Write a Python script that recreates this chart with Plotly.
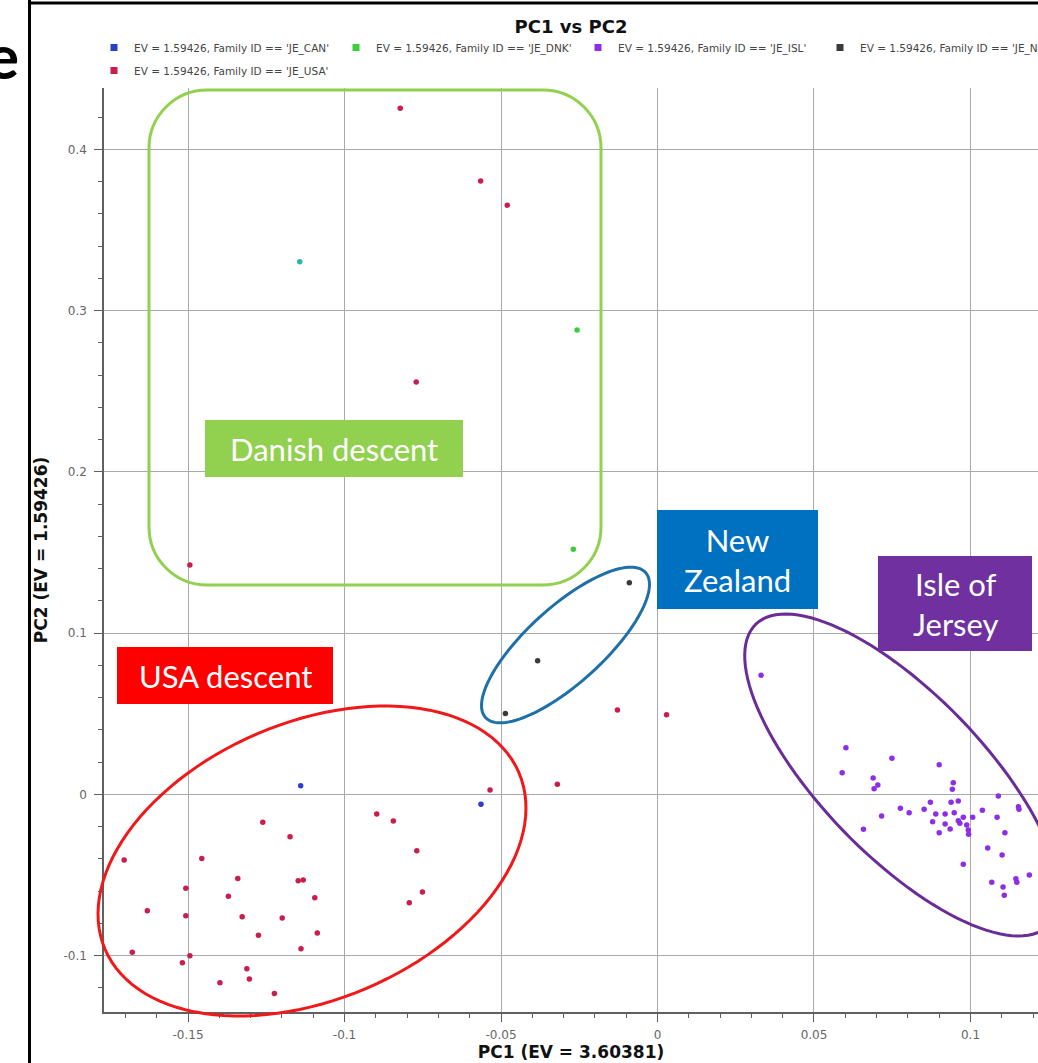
import numpy as np
import plotly.graph_objects as go

# ---------------- data ----------------
legend_labels = {
    "CAN": "EV = 1.59426, Family ID == 'JE_CAN'",
    "DNK": "EV = 1.59426, Family ID == 'JE_DNK'",
    "ISL": "EV = 1.59426, Family ID == 'JE_ISL'",
    "NZL": "EV = 1.59426, Family ID == 'JE_NZL'",
    "USA": "EV = 1.59426, Family ID == 'JE_USA'",
}

can_x = [-0.1140, -0.0564]
can_y = [0.0053, -0.0062]

dnk_x = [-0.0257, -0.0269]
dnk_y = [0.2880, 0.1520]

# one point drawn in a blended teal colour (CAN/DNK overlap)
overlap_x = [-0.1143]
overlap_y = [0.3304]

nzl_x = [-0.0090, -0.0383, -0.0486]
nzl_y = [0.1313, 0.0829, 0.0502]

usa_x = [-0.0822, -0.0565, -0.0480, -0.0771, -0.1494, -0.0128, 0.0029, -0.0320,
         -0.0535, -0.1261, -0.1174, -0.0897, -0.0844, -0.0769, -0.1704, -0.1456,
         -0.1341, -0.1148, -0.1132, -0.1507, -0.1371, -0.1095, -0.0751, -0.0793,
         -0.1630, -0.1507, -0.1327, -0.1199, -0.1087, -0.1275, -0.1139, -0.1678,
         -0.1494, -0.1518, -0.1312, -0.1304, -0.1398, -0.1224]
usa_y = [0.4256, 0.3805, 0.3654, 0.2558, 0.1422, 0.0523, 0.0494, 0.0062,
         0.0027, -0.0174, -0.0263, -0.0122, -0.0166, -0.0350, -0.0408, -0.0399,
         -0.0523, -0.0536, -0.0532, -0.0583, -0.0633, -0.0641, -0.0606, -0.0672,
         -0.0722, -0.0753, -0.0759, -0.0767, -0.0860, -0.0875, -0.0958, -0.0980,
         -0.1001, -0.1045, -0.1082, -0.1146, -0.1169, -0.1235]

isl_x = [0.0331, 0.0602, 0.0749, 0.0590, 0.0900, 0.0689, 0.0704, 0.0692,
         0.0945, 0.0942, 0.1089, 0.0872, 0.0938, 0.0961, 0.1153, 0.1155,
         0.0776, 0.0804, 0.0852, 0.0889, 0.0919, 0.0948, 0.0977, 0.1007,
         0.1038, 0.1085, 0.0716, 0.0879, 0.0919, 0.0961, 0.0966, 0.0935,
         0.0988, 0.0993, 0.0994, 0.0900, 0.0658, 0.1110, 0.1055, 0.1101,
         0.0977, 0.1188, 0.1068, 0.1145, 0.1148, 0.1104, 0.1108]
isl_y = [0.0738, 0.0289, 0.0223, 0.0134, 0.0184, 0.0101, 0.0058, 0.0035,
         0.0072, 0.0031, -0.0011, -0.0050, -0.0050, -0.0042, -0.0077, -0.0093,
         -0.0087, -0.0114, -0.0093, -0.0122, -0.0122, -0.0114, -0.0143, -0.0143,
         -0.0099, -0.0143, -0.0135, -0.0170, -0.0184, -0.0164, -0.0180, -0.0215,
         -0.0190, -0.0221, -0.0248, -0.0238, -0.0217, -0.0238, -0.0333, -0.0377,
         -0.0434, -0.0501, -0.0546, -0.0524, -0.0546, -0.0575, -0.0627]

x_tickvals = [-0.15, -0.1, -0.05, 0, 0.05, 0.1]
x_ticktext = ["-0.15", "-0.1", "-0.05", "0", "0.05", "0.1"]
y_tickvals = [-0.1, 0, 0.1, 0.2, 0.3, 0.4]
y_ticktext = ["-0.1", "0", "0.1", "0.2", "0.3", "0.4"]

X_RANGE = [-0.17684, 0.12157]
Y_RANGE = [-0.13505, 0.43815]

# ---------------- layout geometry ----------------
W, H = 1038, 1063
ML, MR, MT, MB = 104, 0, 88, 51
PL, PR, PT, PB = ML, W - MR, MT, H - MB


def fx(px):  # window px -> paper x
    return (px - PL) / (PR - PL)


def fy(py):  # window px -> paper y
    return (PB - py) / (PB - PT)


colors = {"CAN": "#2a3fc7", "DNK": "#3ccc3c", "ISL": "#8f2de6",
          "NZL": "#3a3a3a", "USA": "#c81d4d"}

fig = go.Figure()

series = [("CAN", can_x, can_y), ("DNK", dnk_x, dnk_y), ("ISL", isl_x, isl_y),
          ("NZL", nzl_x, nzl_y), ("USA", usa_x, usa_y)]

for key, xs, ys in series:
    fig.add_trace(go.Scatter(
        x=xs, y=ys, mode="markers", name=legend_labels[key],
        legendgroup=key, showlegend=False,
        marker=dict(size=5.5, color=colors[key], symbol="circle"),
    ))

fig.add_trace(go.Scatter(
    x=overlap_x, y=overlap_y, mode="markers", name="JE_CAN / JE_DNK",
    showlegend=False, marker=dict(size=5.5, color="#2bb8a8"),
))

# legend entries (square swatches like the original)
for key, _, _ in series:
    fig.add_trace(go.Scatter(
        x=[None], y=[None], mode="markers", name=legend_labels[key],
        legendgroup=key, showlegend=True,
        marker=dict(size=7, color=colors[key], symbol="square"),
    ))

shapes = []
annotations = []


def path_from_px(pts):
    s = "M {:.5f},{:.5f}".format(fx(pts[0][0]), fy(pts[0][1]))
    for p in pts[1:]:
        s += " L {:.5f},{:.5f}".format(fx(p[0]), fy(p[1]))
    return s + " Z"


def ellipse_px(cx, cy, a, b, ang_deg, n=120):
    th = np.deg2rad(ang_deg)
    t = np.linspace(0, 2 * np.pi, n, endpoint=False)
    xs = cx + a * np.cos(t) * np.cos(th) - b * np.sin(t) * np.sin(th)
    ys = cy - (a * np.cos(t) * np.sin(th) + b * np.sin(t) * np.cos(th))
    return list(zip(xs, ys))


def rounded_rect_px(x0, y0, x1, y1, r):
    k = 0.5523 * r
    segs = [
        "M {:.5f},{:.5f}".format(fx(x0 + r), fy(y0)),
        "L {:.5f},{:.5f}".format(fx(x1 - r), fy(y0)),
        "C {:.5f},{:.5f} {:.5f},{:.5f} {:.5f},{:.5f}".format(
            fx(x1 - r + k), fy(y0), fx(x1), fy(y0 + r - k), fx(x1), fy(y0 + r)),
        "L {:.5f},{:.5f}".format(fx(x1), fy(y1 - r)),
        "C {:.5f},{:.5f} {:.5f},{:.5f} {:.5f},{:.5f}".format(
            fx(x1), fy(y1 - r + k), fx(x1 - r + k), fy(y1), fx(x1 - r), fy(y1)),
        "L {:.5f},{:.5f}".format(fx(x0 + r), fy(y1)),
        "C {:.5f},{:.5f} {:.5f},{:.5f} {:.5f},{:.5f}".format(
            fx(x0 + r - k), fy(y1), fx(x0), fy(y1 - r + k), fx(x0), fy(y1 - r)),
        "L {:.5f},{:.5f}".format(fx(x0), fy(y0 + r)),
        "C {:.5f},{:.5f} {:.5f},{:.5f} {:.5f},{:.5f}".format(
            fx(x0), fy(y0 + r - k), fx(x0 + r - k), fy(y0), fx(x0 + r), fy(y0)),
        "Z",
    ]
    return " ".join(segs)


# group outlines
shapes.append(dict(type="path", xref="paper", yref="paper",
                   path=rounded_rect_px(149, 90, 601, 585, 58),
                   line=dict(color="#92d050", width=3)))
shapes.append(dict(type="path", xref="paper", yref="paper",
                   path=path_from_px(ellipse_px(312, 861, 225, 138.5, 23.1)),
                   line=dict(color="#f01818", width=3)))
shapes.append(dict(type="path", xref="paper", yref="paper",
                   path=path_from_px(ellipse_px(565.5, 645, 108, 38, 42.2)),
                   line=dict(color="#1f6fa8", width=3)))
shapes.append(dict(type="path", xref="paper", yref="paper",
                   path=path_from_px(ellipse_px(902, 775, 210, 81, -45.9)),
                   line=dict(color="#6a2d96", width=3)))

# label boxes
label_font = "Lato, 'Open Sans', sans-serif"
boxes = [
    ((205, 420, 463, 477), "#92d050", "Danish descent"),
    ((657, 510, 818, 609), "#0070c0", "New<br>Zealand"),
    ((117, 647, 333, 704), "#ff0000", "USA descent"),
    ((878, 556, 1032, 651), "#7030a0", "Isle of<br>Jersey"),
]
for (x0, y0, x1, y1), col, txt in boxes:
    shapes.append(dict(type="rect", xref="paper", yref="paper",
                       x0=fx(x0), x1=fx(x1), y0=fy(y1), y1=fy(y0),
                       fillcolor=col, line=dict(width=0), layer="above"))
    annotations.append(dict(xref="paper", yref="paper",
                            x=fx((x0 + x1) / 2), y=fy((y0 + y1) / 2),
                            text=txt, showarrow=False, align="center",
                            xanchor="center", yanchor="middle",
                            font=dict(family=label_font, size=31, color="white")))

# outer window frame
shapes.append(dict(type="line", xref="paper", yref="paper",
                   x0=fx(29.5), x1=fx(29.5), y0=fy(0), y1=fy(H),
                   line=dict(color="black", width=3)))
shapes.append(dict(type="line", xref="paper", yref="paper",
                   x0=fx(28), x1=fx(W + 5), y0=fy(3), y1=fy(3),
                   line=dict(color="black", width=3)))

# cropped letter left of the frame
annotations.append(dict(xref="paper", yref="paper", x=fx(21), y=fy(55),
                        xanchor="right", yanchor="middle", showarrow=False,
                        text="<b>e</b>",
                        font=dict(family="Lato, sans-serif", size=62, color="black")))

axis_font = dict(family="DejaVu Sans, Verdana, sans-serif", size=12, color="#666666")
title_font = dict(family="DejaVu Sans, Verdana, sans-serif", size=17, color="#111111")

fig.update_layout(
    width=W, height=H,
    margin=dict(l=ML, r=MR, t=MT, b=MB, autoexpand=False),
    paper_bgcolor="white", plot_bgcolor="white",
    title=dict(text="<b>PC1 vs PC2</b>", x=0.5, xref="paper", xanchor="center",
               y=1 - 27 / H, yref="container", yanchor="middle",
               font=dict(family="DejaVu Sans, Verdana, sans-serif", size=18, color="#111111")),
    showlegend=True,
    legend=dict(orientation="h", x=fx(94), xanchor="left", y=fy(33), yanchor="top",
                entrywidth=197, entrywidthmode="pixels", tracegroupgap=4,
                font=dict(family="DejaVu Sans, Verdana, sans-serif", size=10.5, color="#444444"),
                bgcolor="rgba(0,0,0,0)", itemwidth=30),
    shapes=shapes,
    annotations=annotations,
    xaxis=dict(range=X_RANGE, tickmode="array", tickvals=x_tickvals, ticktext=x_ticktext,
               showgrid=True, gridcolor="#aaaaaa", gridwidth=1, zeroline=False,
               showline=True, linecolor="#606060", linewidth=1.5,
               ticks="outside", ticklen=8, tickcolor="#606060", tickfont=axis_font,
               ticklabelstandoff=3,
               minor=dict(dtick=0.01, tick0=0, ticks="outside", ticklen=4,
                          tickcolor="#606060", showgrid=False),
               title=dict(text="<b>PC1 (EV = 3.60381)</b>", font=title_font, standoff=0)),
    yaxis=dict(range=Y_RANGE, tickmode="array", tickvals=y_tickvals, ticktext=y_ticktext,
               showgrid=True, gridcolor="#aaaaaa", gridwidth=1, zeroline=False,
               showline=True, linecolor="#606060", linewidth=1.5,
               ticks="outside", ticklen=8, tickcolor="#606060", tickfont=axis_font,
               ticklabelstandoff=5,
               minor=dict(dtick=0.02, tick0=0, ticks="outside", ticklen=4,
                          tickcolor="#606060", showgrid=False),
               title=dict(text="<b>PC2 (EV = 1.59426)</b>", font=title_font, standoff=11)),
)

# the page body has a default 8px margin; remove it so the figure fills the window
fig.write_html("out.html", config={"displayModeBar": False},
               post_script="document.body.style.margin='0';")
